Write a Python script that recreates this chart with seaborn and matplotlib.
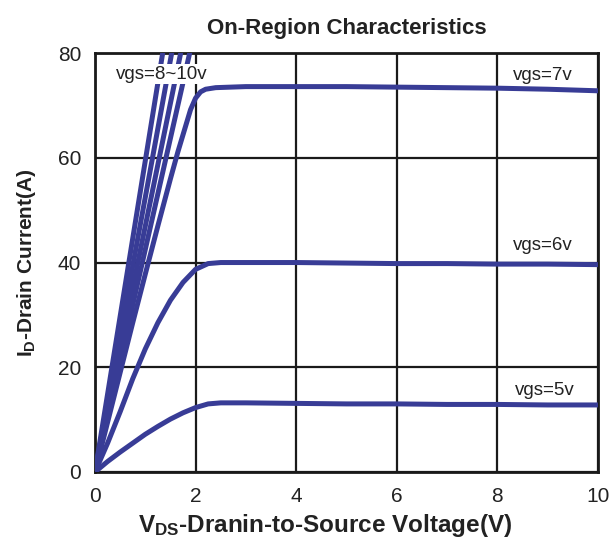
import matplotlib
matplotlib.use("Agg")
import matplotlib.pyplot as plt
import seaborn as sns
import pandas as pd

# ---- data ----
x_5v = [0, 0.25, 0.5, 0.75, 1.0, 1.25, 1.5, 1.75, 2.0, 2.25, 2.5, 3, 4, 5, 6, 7, 8, 9, 10]
y_5v = [0, 2.0, 3.8, 5.5, 7.2, 8.7, 10.1, 11.3, 12.3, 13.0, 13.2, 13.2, 13.1, 13.0, 13.0, 12.9, 12.9, 12.8, 12.8]

x_6v = [0, 0.25, 0.5, 0.75, 1.0, 1.25, 1.5, 1.75, 2.0, 2.25, 2.5, 3, 4, 5, 6, 7, 8, 9, 10]
y_6v = [0, 5.5, 11.5, 17.8, 23.5, 28.5, 32.8, 36.2, 38.7, 39.8, 40.0, 40.0, 40.0, 39.9, 39.8, 39.8, 39.7, 39.7, 39.6]

x_7v = [0, 0.25, 0.5, 0.75, 1.0, 1.25, 1.5, 1.65, 1.8, 1.9, 2.0, 2.1, 2.2, 2.4, 2.7, 3, 4, 5, 6, 7, 8, 9, 10]
y_7v = [0, 9.5, 19.0, 28.5, 37.8, 47.0, 56.0, 61.2, 66.0, 69.2, 71.4, 72.6, 73.1, 73.4, 73.5, 73.6, 73.6, 73.6, 73.5, 73.4, 73.3, 73.1, 72.8]

# the four steep curves grouped under "vgs=8~10v" (run past the top of the axes)
x_8to10_a = [0, 1.43]
x_8to10_b = [0, 1.62]
x_8to10_c = [0, 1.81]
x_8to10_d = [0, 2.00]
y_8to10 = [0, 85]

curve_names = ["vgs=5v", "vgs=6v", "vgs=7v", "vgs=8~10v a", "vgs=8~10v b", "vgs=8~10v c", "vgs=8~10v d"]
x_ticks = [0, 2, 4, 6, 8, 10]
y_ticks = [0, 20, 40, 60, 80]

labels = ["vgs=8~10v", "vgs=7v", "vgs=6v", "vgs=5v"]
label_x = [1.32, 8.9, 8.9, 8.95]
label_y = [76.0, 75.8, 43.3, 15.6]

# ---- build table ----
frames = []
for name, xs, ys in zip(curve_names,
                        [x_5v, x_6v, x_7v, x_8to10_a, x_8to10_b, x_8to10_c, x_8to10_d],
                        [y_5v, y_6v, y_7v, y_8to10, y_8to10, y_8to10, y_8to10]):
    frames.append(pd.DataFrame({"Vds": xs, "Id": ys, "curve": name}))
df = pd.concat(frames, ignore_index=True)

plt.rcParams["font.family"] = ["Liberation Sans", "DejaVu Sans"]
plt.rcParams["mathtext.fontset"] = "custom"
plt.rcParams["mathtext.bf"] = "Liberation Sans:bold"
plt.rcParams["mathtext.rm"] = "Liberation Sans"

line_color = "#383c96"
text_color = "#222222"

fig = plt.figure(figsize=(6.11, 5.44), dpi=100)
ax = fig.add_axes([0.1555, 0.1324, 0.823, 0.770])

sns.lineplot(data=df, x="Vds", y="Id", hue="curve", units="curve",
             estimator=None, sort=False, legend=False,
             palette=[line_color] * len(curve_names),
             linewidth=3.6, ax=ax, zorder=3, solid_capstyle="round")

ax.set_xlim(0, 10)
ax.set_ylim(0, 80)
ax.set_xticks(x_ticks)
ax.set_yticks(y_ticks)
ax.tick_params(axis="x", length=0, labelsize=15, pad=11, colors=text_color)
ax.tick_params(axis="y", length=0, labelsize=15, pad=10, colors=text_color)
ax.grid(True, color="#1a1a1a", linewidth=1.6, zorder=1)
ax.set_axisbelow(True)
for s in ax.spines.values():
    s.set_color("#1a1a1a")
    s.set_linewidth(2.0)

for t, lx, ly in zip(labels, label_x, label_y):
    ax.text(lx, ly, t, ha="center", va="center", fontsize=13.5, color=text_color,
            zorder=5, bbox=dict(facecolor="white", edgecolor="none", pad=1.2))

ax.set_title("On-Region Characteristics", fontsize=16, fontweight="bold",
             color=text_color, pad=14)
ax.set_xlabel(r"$\mathbf{V_{DS}}$-Dranin-to-Source Voltage(V)", fontsize=17.5,
              fontweight="bold", color=text_color)
ax.xaxis.set_label_coords(0.458, -0.095)
ax.set_ylabel(r"$\mathbf{I_{D}}$-Drain Current(A)", fontsize=15,
              fontweight="bold", color=text_color, labelpad=14)

fig.savefig("out.png", dpi=100, facecolor="white")
